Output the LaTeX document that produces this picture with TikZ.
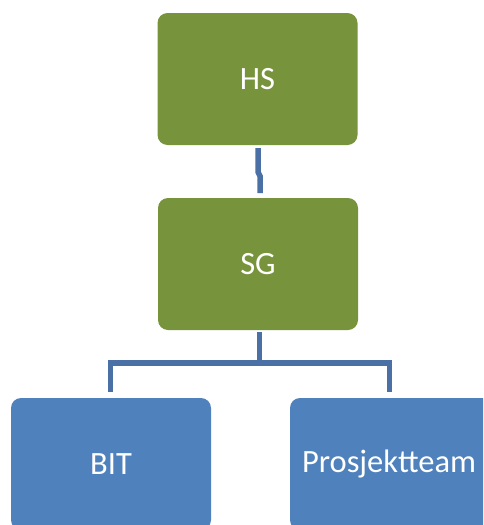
\documentclass[tikz,border=0pt]{standalone}
\usepackage{fontspec}
\setmainfont{Carlito}
\definecolor{boxgreen}{RGB}{119,147,60}
\definecolor{boxblue}{RGB}{79,129,189}
\definecolor{linkblue}{RGB}{74,112,166}
\begin{document}
\begin{tikzpicture}[x=1pt,y=-1pt,
  orgbox/.style={rounded corners=10pt,minimum width=200pt,minimum height=132pt,inner sep=0pt,text=white,font=\fontsize{32.5}{38}\selectfont},
  link/.style={draw=linkblue,line width=5.5pt}]
\useasboundingbox (0,0) rectangle (483,525);
\clip (0,0) rectangle (483,525);
\node[orgbox,fill=boxgreen] (hs) at (257.5,79) {HS};
\node[orgbox,fill=boxgreen] (sg) at (258,264) {SG};
\node[orgbox,fill=boxblue] (bit) at (111,464) {BIT};
\node[orgbox,fill=boxblue,minimum width=220pt] (pt) at (400,464) {\kern-22pt Prosjektteam};
\coordinate (j1) at (258,148);
\coordinate (j2) at (258,172);
\coordinate (j3) at (260,176);
\coordinate (j4) at (260,193);
\draw[link] (j1) -- (j2) -- (j3) -- (j4);
\coordinate (hb) at (259.5,363);
\coordinate (bl) at (110.5,363);
\coordinate (br) at (389.5,363);
\draw[link] (sg.south -| hb) ++(0,2) -- (hb);
\draw[link] (bl |- bit.north) ++(0,-6) -- (bl) -- (br) -- ([yshift=6pt]br |- pt.north);
\end{tikzpicture}
\end{document}
